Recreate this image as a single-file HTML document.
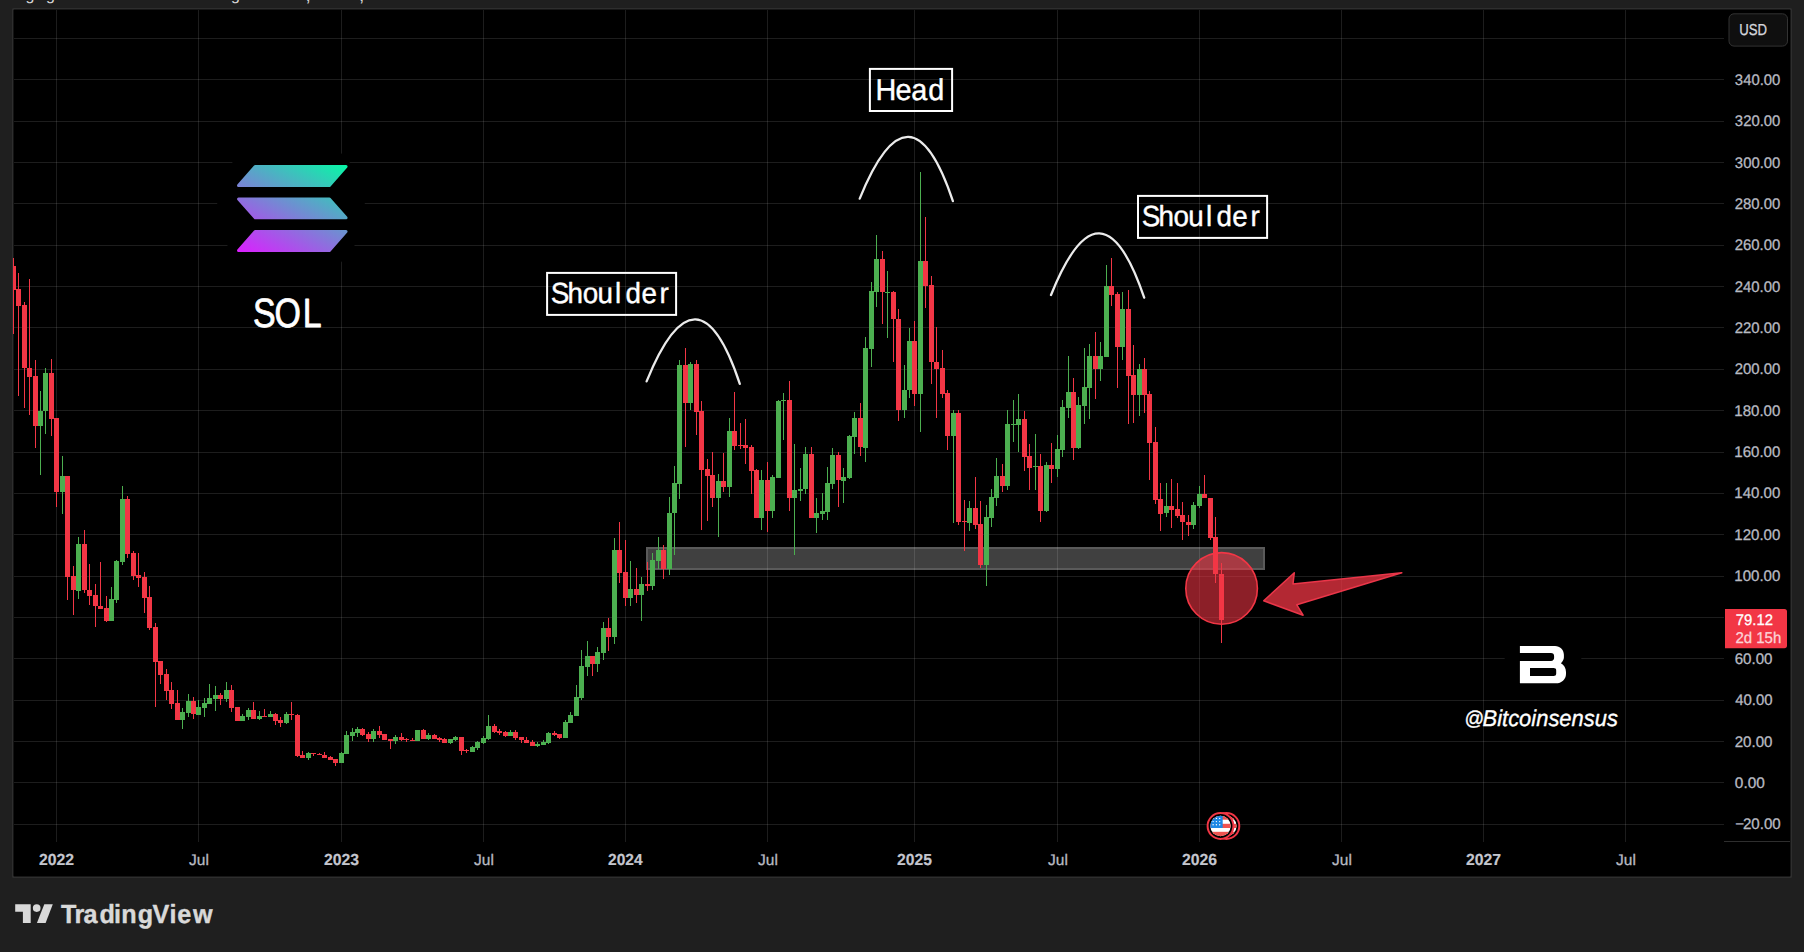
<!DOCTYPE html>
<html lang="en"><head><meta charset="utf-8"><title>SOL chart</title>
<style>
html,body{margin:0;padding:0;background:#1f1f1f;}
body{width:1804px;height:952px;overflow:hidden;font-family:"Liberation Sans", sans-serif;}
svg{display:block;position:absolute;left:0;top:0}
svg text{font-family:"Liberation Sans", sans-serif;text-rendering:geometricPrecision;}
</style></head><body>
<svg width="1804" height="952" viewBox="0 0 1804 952">
<defs>
<linearGradient id="solg" gradientUnits="userSpaceOnUse" x1="276.4" y1="271.7" x2="337.2" y2="155.2">
<stop offset="0" stop-color="#dc1fff"/><stop offset="1" stop-color="#00ffa3"/>
</linearGradient>
<clipPath id="toptext"><rect x="0" y="0" width="1804" height="8"/></clipPath>
<clipPath id="pane"><rect x="13" y="9.8" width="1711" height="832"/></clipPath>
<clipPath id="flagc"><circle cx="1220.5" cy="826" r="10.2"/></clipPath>
<clipPath id="flagb"><circle cx="1226.4" cy="826" r="10.2"/></clipPath>
</defs>

<rect x="0" y="0" width="1804" height="952" fill="#1f1f1f"/>
<rect x="12" y="8" width="1780" height="870" rx="1.5" fill="#2e2e2e"/>
<rect x="13.45" y="9.45" width="1777.05" height="867.0" rx="1" fill="#000"/>
<g clip-path="url(#toptext)" fill="#d6d6d6" font-size="16px"><text x="25.5" y="-0.3">g</text><text x="46" y="-0.3">g</text><text x="231" y="-0.3">g</text><text x="305.5" y="0.6" font-size="19px">,</text><text x="359" y="0.6" font-size="19px">,</text></g>
<g fill="rgba(255,255,255,0.115)" shape-rendering="crispEdges">
<rect x="56" y="10" width="1" height="832"/>
<rect x="198" y="10" width="1" height="832"/>
<rect x="341" y="10" width="1" height="832"/>
<rect x="483" y="10" width="1" height="832"/>
<rect x="625" y="10" width="1" height="832"/>
<rect x="767" y="10" width="1" height="832"/>
<rect x="914" y="10" width="1" height="832"/>
<rect x="1057" y="10" width="1" height="832"/>
<rect x="1199" y="10" width="1" height="832"/>
<rect x="1341" y="10" width="1" height="832"/>
<rect x="1483" y="10" width="1" height="832"/>
<rect x="1625" y="10" width="1" height="832"/>
<rect x="14" y="824" width="1710" height="1"/>
<rect x="14" y="782" width="1710" height="1"/>
<rect x="14" y="741" width="1710" height="1"/>
<rect x="14" y="700" width="1710" height="1"/>
<rect x="14" y="658" width="1710" height="1"/>
<rect x="14" y="617" width="1710" height="1"/>
<rect x="14" y="576" width="1710" height="1"/>
<rect x="14" y="534" width="1710" height="1"/>
<rect x="14" y="493" width="1710" height="1"/>
<rect x="14" y="452" width="1710" height="1"/>
<rect x="14" y="410" width="1710" height="1"/>
<rect x="14" y="369" width="1710" height="1"/>
<rect x="14" y="327" width="1710" height="1"/>
<rect x="14" y="286" width="1710" height="1"/>
<rect x="14" y="245" width="1710" height="1"/>
<rect x="14" y="203" width="1710" height="1"/>
<rect x="14" y="162" width="1710" height="1"/>
<rect x="14" y="121" width="1710" height="1"/>
<rect x="14" y="79" width="1710" height="1"/>
<rect x="14" y="38" width="1710" height="1"/>
</g>
<rect x="1724" y="841" width="66" height="1" fill="#2e2e2e"/>
<rect x="646" y="547" width="619" height="23" fill="rgba(255,255,255,0.25)"/><rect x="647" y="548" width="617" height="21" fill="none" stroke="rgba(255,255,255,0.136)" stroke-width="2"/>
<circle cx="1221.6" cy="588.4" r="35.8" fill="rgba(242,54,69,0.58)" stroke="#f23645" stroke-width="1.6"/>
<path d="M1263.7 600.8 L1294.3 572.7 L1293 583.9 L1401.8 572.7 L1296.8 604.8 L1303.1 615.2 Z" fill="rgba(242,54,69,0.74)" stroke="#ea3649" stroke-width="1.5" stroke-linejoin="round"/>
<g clip-path="url(#pane)" shape-rendering="crispEdges">
<rect x="13" y="258" width="1" height="76" fill="#f23645"/><rect x="11" y="266" width="5" height="24" fill="#f23645"/>
<rect x="18" y="273" width="1" height="123" fill="#f23645"/><rect x="16" y="289" width="5" height="17" fill="#f23645"/>
<rect x="24" y="302" width="1" height="106" fill="#f23645"/><rect x="22" y="305" width="5" height="63" fill="#f23645"/>
<rect x="29" y="279" width="1" height="136" fill="#f23645"/><rect x="27" y="368" width="5" height="9" fill="#f23645"/>
<rect x="35" y="360" width="1" height="88" fill="#f23645"/><rect x="33" y="376" width="5" height="50" fill="#f23645"/>
<rect x="40" y="391" width="1" height="84" fill="#4caf50"/><rect x="38" y="411" width="5" height="15" fill="#4caf50"/>
<rect x="45" y="368" width="1" height="66" fill="#4caf50"/><rect x="43" y="373" width="5" height="38" fill="#4caf50"/>
<rect x="51" y="359" width="1" height="77" fill="#f23645"/><rect x="49" y="373" width="5" height="46" fill="#f23645"/>
<rect x="56" y="418" width="1" height="89" fill="#f23645"/><rect x="54" y="418" width="5" height="74" fill="#f23645"/>
<rect x="62" y="456" width="1" height="58" fill="#4caf50"/><rect x="60" y="476" width="5" height="16" fill="#4caf50"/>
<rect x="67" y="476" width="1" height="124" fill="#f23645"/><rect x="65" y="476" width="5" height="101" fill="#f23645"/>
<rect x="73" y="566" width="1" height="49" fill="#f23645"/><rect x="71" y="576" width="5" height="14" fill="#f23645"/>
<rect x="78" y="537" width="1" height="62" fill="#4caf50"/><rect x="76" y="544" width="5" height="47" fill="#4caf50"/>
<rect x="84" y="530" width="1" height="63" fill="#f23645"/><rect x="82" y="544" width="5" height="46" fill="#f23645"/>
<rect x="89" y="564" width="1" height="41" fill="#f23645"/><rect x="87" y="590" width="5" height="6" fill="#f23645"/>
<rect x="95" y="584" width="1" height="43" fill="#f23645"/><rect x="93" y="595" width="5" height="11" fill="#f23645"/>
<rect x="100" y="562" width="1" height="47" fill="#f23645"/><rect x="98" y="606" width="5" height="3" fill="#f23645"/>
<rect x="106" y="596" width="1" height="26" fill="#f23645"/><rect x="104" y="608" width="5" height="13" fill="#f23645"/>
<rect x="111" y="587" width="1" height="34" fill="#4caf50"/><rect x="109" y="599" width="5" height="22" fill="#4caf50"/>
<rect x="116" y="560" width="1" height="43" fill="#4caf50"/><rect x="114" y="561" width="5" height="39" fill="#4caf50"/>
<rect x="122" y="486" width="1" height="79" fill="#4caf50"/><rect x="120" y="499" width="5" height="63" fill="#4caf50"/>
<rect x="127" y="496" width="1" height="62" fill="#f23645"/><rect x="125" y="499" width="5" height="55" fill="#f23645"/>
<rect x="133" y="551" width="1" height="29" fill="#f23645"/><rect x="131" y="553" width="5" height="23" fill="#f23645"/>
<rect x="138" y="553" width="1" height="34" fill="#f23645"/><rect x="136" y="575" width="5" height="3" fill="#f23645"/>
<rect x="144" y="572" width="1" height="41" fill="#f23645"/><rect x="142" y="577" width="5" height="21" fill="#f23645"/>
<rect x="149" y="586" width="1" height="44" fill="#f23645"/><rect x="147" y="597" width="5" height="31" fill="#f23645"/>
<rect x="155" y="623" width="1" height="84" fill="#f23645"/><rect x="153" y="627" width="5" height="35" fill="#f23645"/>
<rect x="160" y="661" width="1" height="23" fill="#f23645"/><rect x="158" y="661" width="5" height="14" fill="#f23645"/>
<rect x="166" y="669" width="1" height="31" fill="#f23645"/><rect x="164" y="674" width="5" height="17" fill="#f23645"/>
<rect x="171" y="682" width="1" height="27" fill="#f23645"/><rect x="169" y="690" width="5" height="14" fill="#f23645"/>
<rect x="177" y="690" width="1" height="30" fill="#f23645"/><rect x="175" y="703" width="5" height="17" fill="#f23645"/>
<rect x="182" y="708" width="1" height="21" fill="#4caf50"/><rect x="180" y="712" width="5" height="8" fill="#4caf50"/>
<rect x="188" y="694" width="1" height="23" fill="#4caf50"/><rect x="186" y="701" width="5" height="12" fill="#4caf50"/>
<rect x="193" y="697" width="1" height="22" fill="#f23645"/><rect x="191" y="701" width="5" height="13" fill="#f23645"/>
<rect x="198" y="700" width="1" height="15" fill="#4caf50"/><rect x="196" y="707" width="5" height="8" fill="#4caf50"/>
<rect x="204" y="698" width="1" height="19" fill="#4caf50"/><rect x="202" y="703" width="5" height="5" fill="#4caf50"/>
<rect x="209" y="684" width="1" height="20" fill="#4caf50"/><rect x="207" y="698" width="5" height="6" fill="#4caf50"/>
<rect x="215" y="686" width="1" height="25" fill="#4caf50"/><rect x="213" y="695" width="5" height="4" fill="#4caf50"/>
<rect x="220" y="693" width="1" height="12" fill="#f23645"/><rect x="218" y="695" width="5" height="4" fill="#f23645"/>
<rect x="226" y="682" width="1" height="20" fill="#4caf50"/><rect x="224" y="690" width="5" height="9" fill="#4caf50"/>
<rect x="231" y="685" width="1" height="27" fill="#f23645"/><rect x="229" y="690" width="5" height="18" fill="#f23645"/>
<rect x="237" y="707" width="1" height="14" fill="#f23645"/><rect x="235" y="707" width="5" height="14" fill="#f23645"/>
<rect x="242" y="714" width="1" height="7" fill="#4caf50"/><rect x="240" y="716" width="5" height="5" fill="#4caf50"/>
<rect x="248" y="708" width="1" height="12" fill="#4caf50"/><rect x="246" y="710" width="5" height="7" fill="#4caf50"/>
<rect x="253" y="702" width="1" height="17" fill="#f23645"/><rect x="251" y="710" width="5" height="9" fill="#f23645"/>
<rect x="259" y="711" width="1" height="9" fill="#4caf50"/><rect x="257" y="716" width="5" height="3" fill="#4caf50"/>
<rect x="264" y="709" width="1" height="8" fill="#f23645"/><rect x="262" y="716" width="5" height="1" fill="#f23645"/>
<rect x="270" y="711" width="1" height="6" fill="#4caf50"/><rect x="268" y="714" width="5" height="3" fill="#4caf50"/>
<rect x="275" y="713" width="1" height="12" fill="#f23645"/><rect x="273" y="714" width="5" height="7" fill="#f23645"/>
<rect x="280" y="717" width="1" height="10" fill="#f23645"/><rect x="278" y="720" width="5" height="3" fill="#f23645"/>
<rect x="286" y="712" width="1" height="12" fill="#4caf50"/><rect x="284" y="714" width="5" height="9" fill="#4caf50"/>
<rect x="291" y="702" width="1" height="18" fill="#f23645"/><rect x="289" y="714" width="5" height="1" fill="#f23645"/>
<rect x="297" y="714" width="1" height="43" fill="#f23645"/><rect x="295" y="715" width="5" height="41" fill="#f23645"/>
<rect x="302" y="751" width="1" height="7" fill="#f23645"/><rect x="300" y="755" width="5" height="3" fill="#f23645"/>
<rect x="308" y="752" width="1" height="8" fill="#4caf50"/><rect x="306" y="753" width="5" height="5" fill="#4caf50"/>
<rect x="313" y="753" width="1" height="3" fill="#f23645"/><rect x="311" y="753" width="5" height="1" fill="#f23645"/>
<rect x="319" y="753" width="1" height="2" fill="#f23645"/><rect x="317" y="754" width="5" height="1" fill="#f23645"/>
<rect x="324" y="752" width="1" height="6" fill="#f23645"/><rect x="322" y="755" width="5" height="3" fill="#f23645"/>
<rect x="330" y="756" width="1" height="4" fill="#f23645"/><rect x="328" y="757" width="5" height="3" fill="#f23645"/>
<rect x="335" y="759" width="1" height="7" fill="#f23645"/><rect x="333" y="759" width="5" height="4" fill="#f23645"/>
<rect x="341" y="752" width="1" height="11" fill="#4caf50"/><rect x="339" y="753" width="5" height="10" fill="#4caf50"/>
<rect x="346" y="731" width="1" height="23" fill="#4caf50"/><rect x="344" y="735" width="5" height="19" fill="#4caf50"/>
<rect x="352" y="728" width="1" height="13" fill="#4caf50"/><rect x="350" y="732" width="5" height="4" fill="#4caf50"/>
<rect x="357" y="727" width="1" height="10" fill="#4caf50"/><rect x="355" y="729" width="5" height="4" fill="#4caf50"/>
<rect x="362" y="728" width="1" height="8" fill="#f23645"/><rect x="360" y="729" width="5" height="6" fill="#f23645"/>
<rect x="368" y="732" width="1" height="10" fill="#f23645"/><rect x="366" y="734" width="5" height="5" fill="#f23645"/>
<rect x="373" y="729" width="1" height="13" fill="#4caf50"/><rect x="371" y="731" width="5" height="8" fill="#4caf50"/>
<rect x="379" y="726" width="1" height="12" fill="#f23645"/><rect x="377" y="731" width="5" height="4" fill="#f23645"/>
<rect x="384" y="734" width="1" height="6" fill="#f23645"/><rect x="382" y="734" width="5" height="6" fill="#f23645"/>
<rect x="390" y="739" width="1" height="10" fill="#f23645"/><rect x="388" y="739" width="5" height="2" fill="#f23645"/>
<rect x="395" y="735" width="1" height="9" fill="#4caf50"/><rect x="393" y="737" width="5" height="4" fill="#4caf50"/>
<rect x="401" y="733" width="1" height="8" fill="#f23645"/><rect x="399" y="737" width="5" height="3" fill="#f23645"/>
<rect x="406" y="738" width="1" height="4" fill="#f23645"/><rect x="404" y="739" width="5" height="1" fill="#f23645"/>
<rect x="412" y="738" width="1" height="3" fill="#f23645"/><rect x="410" y="740" width="5" height="1" fill="#f23645"/>
<rect x="417" y="730" width="1" height="11" fill="#4caf50"/><rect x="415" y="730" width="5" height="11" fill="#4caf50"/>
<rect x="423" y="729" width="1" height="10" fill="#f23645"/><rect x="421" y="730" width="5" height="9" fill="#f23645"/>
<rect x="428" y="733" width="1" height="7" fill="#4caf50"/><rect x="426" y="735" width="5" height="4" fill="#4caf50"/>
<rect x="434" y="734" width="1" height="5" fill="#f23645"/><rect x="432" y="735" width="5" height="4" fill="#f23645"/>
<rect x="439" y="737" width="1" height="5" fill="#f23645"/><rect x="437" y="738" width="5" height="2" fill="#f23645"/>
<rect x="444" y="738" width="1" height="5" fill="#f23645"/><rect x="442" y="739" width="5" height="4" fill="#f23645"/>
<rect x="450" y="739" width="1" height="5" fill="#4caf50"/><rect x="448" y="739" width="5" height="4" fill="#4caf50"/>
<rect x="455" y="736" width="1" height="5" fill="#4caf50"/><rect x="453" y="737" width="5" height="3" fill="#4caf50"/>
<rect x="461" y="737" width="1" height="18" fill="#f23645"/><rect x="459" y="737" width="5" height="14" fill="#f23645"/>
<rect x="466" y="749" width="1" height="4" fill="#f23645"/><rect x="464" y="750" width="5" height="1" fill="#f23645"/>
<rect x="472" y="746" width="1" height="6" fill="#4caf50"/><rect x="470" y="747" width="5" height="5" fill="#4caf50"/>
<rect x="477" y="741" width="1" height="9" fill="#4caf50"/><rect x="475" y="742" width="5" height="6" fill="#4caf50"/>
<rect x="483" y="736" width="1" height="8" fill="#4caf50"/><rect x="481" y="738" width="5" height="5" fill="#4caf50"/>
<rect x="488" y="715" width="1" height="25" fill="#4caf50"/><rect x="486" y="726" width="5" height="13" fill="#4caf50"/>
<rect x="494" y="724" width="1" height="9" fill="#f23645"/><rect x="492" y="726" width="5" height="6" fill="#f23645"/>
<rect x="499" y="729" width="1" height="6" fill="#f23645"/><rect x="497" y="731" width="5" height="2" fill="#f23645"/>
<rect x="505" y="731" width="1" height="6" fill="#f23645"/><rect x="503" y="732" width="5" height="4" fill="#f23645"/>
<rect x="510" y="730" width="1" height="6" fill="#4caf50"/><rect x="508" y="732" width="5" height="4" fill="#4caf50"/>
<rect x="515" y="730" width="1" height="10" fill="#f23645"/><rect x="513" y="732" width="5" height="6" fill="#f23645"/>
<rect x="521" y="737" width="1" height="6" fill="#f23645"/><rect x="519" y="737" width="5" height="3" fill="#f23645"/>
<rect x="526" y="737" width="1" height="6" fill="#f23645"/><rect x="524" y="740" width="5" height="3" fill="#f23645"/>
<rect x="532" y="740" width="1" height="6" fill="#f23645"/><rect x="530" y="742" width="5" height="4" fill="#f23645"/>
<rect x="537" y="742" width="1" height="5" fill="#4caf50"/><rect x="535" y="744" width="5" height="2" fill="#4caf50"/>
<rect x="543" y="740" width="1" height="5" fill="#4caf50"/><rect x="541" y="742" width="5" height="3" fill="#4caf50"/>
<rect x="548" y="732" width="1" height="12" fill="#4caf50"/><rect x="546" y="733" width="5" height="10" fill="#4caf50"/>
<rect x="554" y="731" width="1" height="5" fill="#f23645"/><rect x="552" y="733" width="5" height="2" fill="#f23645"/>
<rect x="559" y="734" width="1" height="5" fill="#f23645"/><rect x="557" y="734" width="5" height="4" fill="#f23645"/>
<rect x="565" y="720" width="1" height="18" fill="#4caf50"/><rect x="563" y="722" width="5" height="16" fill="#4caf50"/>
<rect x="570" y="712" width="1" height="11" fill="#4caf50"/><rect x="568" y="715" width="5" height="8" fill="#4caf50"/>
<rect x="576" y="685" width="1" height="31" fill="#4caf50"/><rect x="574" y="697" width="5" height="19" fill="#4caf50"/>
<rect x="581" y="650" width="1" height="50" fill="#4caf50"/><rect x="579" y="666" width="5" height="32" fill="#4caf50"/>
<rect x="587" y="641" width="1" height="35" fill="#4caf50"/><rect x="585" y="656" width="5" height="11" fill="#4caf50"/>
<rect x="592" y="656" width="1" height="20" fill="#f23645"/><rect x="590" y="656" width="5" height="8" fill="#f23645"/>
<rect x="597" y="647" width="1" height="25" fill="#4caf50"/><rect x="595" y="652" width="5" height="12" fill="#4caf50"/>
<rect x="603" y="622" width="1" height="38" fill="#4caf50"/><rect x="601" y="628" width="5" height="25" fill="#4caf50"/>
<rect x="608" y="618" width="1" height="33" fill="#f23645"/><rect x="606" y="628" width="5" height="9" fill="#f23645"/>
<rect x="614" y="538" width="1" height="106" fill="#4caf50"/><rect x="612" y="550" width="5" height="87" fill="#4caf50"/>
<rect x="619" y="522" width="1" height="61" fill="#f23645"/><rect x="617" y="550" width="5" height="23" fill="#f23645"/>
<rect x="625" y="540" width="1" height="66" fill="#f23645"/><rect x="623" y="572" width="5" height="26" fill="#f23645"/>
<rect x="630" y="561" width="1" height="45" fill="#4caf50"/><rect x="628" y="589" width="5" height="9" fill="#4caf50"/>
<rect x="636" y="568" width="1" height="35" fill="#f23645"/><rect x="634" y="589" width="5" height="6" fill="#f23645"/>
<rect x="641" y="577" width="1" height="44" fill="#4caf50"/><rect x="639" y="584" width="5" height="11" fill="#4caf50"/>
<rect x="647" y="562" width="1" height="29" fill="#f23645"/><rect x="645" y="584" width="5" height="2" fill="#f23645"/>
<rect x="652" y="553" width="1" height="37" fill="#4caf50"/><rect x="650" y="560" width="5" height="26" fill="#4caf50"/>
<rect x="658" y="537" width="1" height="32" fill="#4caf50"/><rect x="656" y="550" width="5" height="11" fill="#4caf50"/>
<rect x="663" y="545" width="1" height="34" fill="#f23645"/><rect x="661" y="550" width="5" height="19" fill="#f23645"/>
<rect x="669" y="497" width="1" height="78" fill="#4caf50"/><rect x="667" y="513" width="5" height="56" fill="#4caf50"/>
<rect x="674" y="466" width="1" height="89" fill="#4caf50"/><rect x="672" y="483" width="5" height="30" fill="#4caf50"/>
<rect x="679" y="360" width="1" height="139" fill="#4caf50"/><rect x="677" y="365" width="5" height="119" fill="#4caf50"/>
<rect x="685" y="348" width="1" height="99" fill="#f23645"/><rect x="683" y="365" width="5" height="38" fill="#f23645"/>
<rect x="690" y="362" width="1" height="48" fill="#4caf50"/><rect x="688" y="364" width="5" height="39" fill="#4caf50"/>
<rect x="696" y="360" width="1" height="75" fill="#f23645"/><rect x="694" y="364" width="5" height="48" fill="#f23645"/>
<rect x="701" y="401" width="1" height="129" fill="#f23645"/><rect x="699" y="411" width="5" height="59" fill="#f23645"/>
<rect x="707" y="459" width="1" height="62" fill="#f23645"/><rect x="705" y="469" width="5" height="7" fill="#f23645"/>
<rect x="712" y="452" width="1" height="55" fill="#f23645"/><rect x="710" y="475" width="5" height="23" fill="#f23645"/>
<rect x="718" y="474" width="1" height="63" fill="#4caf50"/><rect x="716" y="481" width="5" height="17" fill="#4caf50"/>
<rect x="723" y="453" width="1" height="39" fill="#f23645"/><rect x="721" y="481" width="5" height="6" fill="#f23645"/>
<rect x="729" y="418" width="1" height="79" fill="#4caf50"/><rect x="727" y="431" width="5" height="56" fill="#4caf50"/>
<rect x="734" y="392" width="1" height="58" fill="#f23645"/><rect x="732" y="431" width="5" height="15" fill="#f23645"/>
<rect x="740" y="423" width="1" height="26" fill="#f23645"/><rect x="738" y="445" width="5" height="1" fill="#f23645"/>
<rect x="745" y="419" width="1" height="45" fill="#f23645"/><rect x="743" y="445" width="5" height="3" fill="#f23645"/>
<rect x="751" y="445" width="1" height="49" fill="#f23645"/><rect x="749" y="447" width="5" height="24" fill="#f23645"/>
<rect x="756" y="469" width="1" height="49" fill="#f23645"/><rect x="754" y="470" width="5" height="48" fill="#f23645"/>
<rect x="761" y="470" width="1" height="60" fill="#4caf50"/><rect x="759" y="480" width="5" height="38" fill="#4caf50"/>
<rect x="767" y="462" width="1" height="70" fill="#f23645"/><rect x="765" y="480" width="5" height="31" fill="#f23645"/>
<rect x="772" y="475" width="1" height="43" fill="#4caf50"/><rect x="770" y="477" width="5" height="34" fill="#4caf50"/>
<rect x="778" y="400" width="1" height="78" fill="#4caf50"/><rect x="776" y="401" width="5" height="77" fill="#4caf50"/>
<rect x="783" y="393" width="1" height="47" fill="#4caf50"/><rect x="781" y="400" width="5" height="1" fill="#4caf50"/>
<rect x="789" y="381" width="1" height="130" fill="#f23645"/><rect x="787" y="400" width="5" height="98" fill="#f23645"/>
<rect x="794" y="444" width="1" height="111" fill="#4caf50"/><rect x="792" y="490" width="5" height="8" fill="#4caf50"/>
<rect x="800" y="468" width="1" height="33" fill="#4caf50"/><rect x="798" y="489" width="5" height="2" fill="#4caf50"/>
<rect x="805" y="447" width="1" height="47" fill="#4caf50"/><rect x="803" y="454" width="5" height="35" fill="#4caf50"/>
<rect x="811" y="447" width="1" height="71" fill="#f23645"/><rect x="809" y="454" width="5" height="64" fill="#f23645"/>
<rect x="816" y="498" width="1" height="35" fill="#4caf50"/><rect x="814" y="513" width="5" height="5" fill="#4caf50"/>
<rect x="822" y="493" width="1" height="27" fill="#4caf50"/><rect x="820" y="511" width="5" height="3" fill="#4caf50"/>
<rect x="827" y="467" width="1" height="53" fill="#4caf50"/><rect x="825" y="483" width="5" height="29" fill="#4caf50"/>
<rect x="832" y="448" width="1" height="41" fill="#4caf50"/><rect x="830" y="455" width="5" height="29" fill="#4caf50"/>
<rect x="838" y="452" width="1" height="55" fill="#f23645"/><rect x="836" y="455" width="5" height="25" fill="#f23645"/>
<rect x="843" y="468" width="1" height="35" fill="#4caf50"/><rect x="841" y="477" width="5" height="4" fill="#4caf50"/>
<rect x="849" y="435" width="1" height="44" fill="#4caf50"/><rect x="847" y="436" width="5" height="42" fill="#4caf50"/>
<rect x="854" y="412" width="1" height="42" fill="#4caf50"/><rect x="852" y="418" width="5" height="19" fill="#4caf50"/>
<rect x="860" y="403" width="1" height="53" fill="#f23645"/><rect x="858" y="418" width="5" height="29" fill="#f23645"/>
<rect x="865" y="337" width="1" height="125" fill="#4caf50"/><rect x="863" y="348" width="5" height="100" fill="#4caf50"/>
<rect x="871" y="282" width="1" height="85" fill="#4caf50"/><rect x="869" y="291" width="5" height="58" fill="#4caf50"/>
<rect x="876" y="235" width="1" height="72" fill="#4caf50"/><rect x="874" y="259" width="5" height="33" fill="#4caf50"/>
<rect x="882" y="251" width="1" height="73" fill="#f23645"/><rect x="880" y="259" width="5" height="33" fill="#f23645"/>
<rect x="887" y="271" width="1" height="67" fill="#4caf50"/><rect x="885" y="292" width="5" height="1" fill="#4caf50"/>
<rect x="893" y="291" width="1" height="71" fill="#f23645"/><rect x="891" y="292" width="5" height="27" fill="#f23645"/>
<rect x="898" y="309" width="1" height="112" fill="#f23645"/><rect x="896" y="319" width="5" height="91" fill="#f23645"/>
<rect x="904" y="365" width="1" height="53" fill="#4caf50"/><rect x="902" y="390" width="5" height="20" fill="#4caf50"/>
<rect x="909" y="328" width="1" height="70" fill="#4caf50"/><rect x="907" y="341" width="5" height="49" fill="#4caf50"/>
<rect x="914" y="321" width="1" height="85" fill="#f23645"/><rect x="912" y="341" width="5" height="53" fill="#f23645"/>
<rect x="920" y="172" width="1" height="260" fill="#4caf50"/><rect x="918" y="261" width="5" height="133" fill="#4caf50"/>
<rect x="925" y="217" width="1" height="91" fill="#f23645"/><rect x="923" y="261" width="5" height="25" fill="#f23645"/>
<rect x="931" y="276" width="1" height="108" fill="#f23645"/><rect x="929" y="285" width="5" height="77" fill="#f23645"/>
<rect x="936" y="327" width="1" height="91" fill="#f23645"/><rect x="934" y="362" width="5" height="7" fill="#f23645"/>
<rect x="942" y="350" width="1" height="48" fill="#f23645"/><rect x="940" y="368" width="5" height="26" fill="#f23645"/>
<rect x="947" y="390" width="1" height="60" fill="#f23645"/><rect x="945" y="393" width="5" height="43" fill="#f23645"/>
<rect x="953" y="410" width="1" height="113" fill="#4caf50"/><rect x="951" y="413" width="5" height="23" fill="#4caf50"/>
<rect x="958" y="410" width="1" height="115" fill="#f23645"/><rect x="956" y="413" width="5" height="109" fill="#f23645"/>
<rect x="964" y="500" width="1" height="51" fill="#f23645"/><rect x="962" y="521" width="5" height="1" fill="#f23645"/>
<rect x="969" y="501" width="1" height="30" fill="#4caf50"/><rect x="967" y="508" width="5" height="15" fill="#4caf50"/>
<rect x="975" y="477" width="1" height="52" fill="#f23645"/><rect x="973" y="508" width="5" height="17" fill="#f23645"/>
<rect x="980" y="501" width="1" height="67" fill="#f23645"/><rect x="978" y="524" width="5" height="41" fill="#f23645"/>
<rect x="986" y="505" width="1" height="81" fill="#4caf50"/><rect x="984" y="517" width="5" height="48" fill="#4caf50"/>
<rect x="991" y="489" width="1" height="38" fill="#4caf50"/><rect x="989" y="497" width="5" height="21" fill="#4caf50"/>
<rect x="996" y="458" width="1" height="48" fill="#4caf50"/><rect x="994" y="476" width="5" height="22" fill="#4caf50"/>
<rect x="1002" y="464" width="1" height="28" fill="#f23645"/><rect x="1000" y="476" width="5" height="10" fill="#f23645"/>
<rect x="1007" y="410" width="1" height="80" fill="#4caf50"/><rect x="1005" y="424" width="5" height="62" fill="#4caf50"/>
<rect x="1013" y="400" width="1" height="42" fill="#4caf50"/><rect x="1011" y="424" width="5" height="1" fill="#4caf50"/>
<rect x="1018" y="394" width="1" height="58" fill="#4caf50"/><rect x="1016" y="419" width="5" height="6" fill="#4caf50"/>
<rect x="1024" y="411" width="1" height="60" fill="#f23645"/><rect x="1022" y="419" width="5" height="38" fill="#f23645"/>
<rect x="1029" y="444" width="1" height="46" fill="#f23645"/><rect x="1027" y="456" width="5" height="12" fill="#f23645"/>
<rect x="1035" y="434" width="1" height="56" fill="#4caf50"/><rect x="1033" y="466" width="5" height="1" fill="#4caf50"/>
<rect x="1040" y="454" width="1" height="68" fill="#f23645"/><rect x="1038" y="466" width="5" height="45" fill="#f23645"/>
<rect x="1046" y="462" width="1" height="50" fill="#4caf50"/><rect x="1044" y="465" width="5" height="46" fill="#4caf50"/>
<rect x="1051" y="443" width="1" height="40" fill="#f23645"/><rect x="1049" y="465" width="5" height="4" fill="#f23645"/>
<rect x="1057" y="435" width="1" height="42" fill="#4caf50"/><rect x="1055" y="449" width="5" height="20" fill="#4caf50"/>
<rect x="1062" y="400" width="1" height="57" fill="#4caf50"/><rect x="1060" y="407" width="5" height="43" fill="#4caf50"/>
<rect x="1068" y="356" width="1" height="62" fill="#4caf50"/><rect x="1066" y="392" width="5" height="16" fill="#4caf50"/>
<rect x="1073" y="378" width="1" height="82" fill="#f23645"/><rect x="1071" y="392" width="5" height="56" fill="#f23645"/>
<rect x="1078" y="397" width="1" height="52" fill="#4caf50"/><rect x="1076" y="405" width="5" height="43" fill="#4caf50"/>
<rect x="1084" y="348" width="1" height="76" fill="#4caf50"/><rect x="1082" y="387" width="5" height="19" fill="#4caf50"/>
<rect x="1089" y="344" width="1" height="75" fill="#4caf50"/><rect x="1087" y="356" width="5" height="32" fill="#4caf50"/>
<rect x="1095" y="332" width="1" height="67" fill="#f23645"/><rect x="1093" y="356" width="5" height="13" fill="#f23645"/>
<rect x="1100" y="342" width="1" height="39" fill="#4caf50"/><rect x="1098" y="356" width="5" height="13" fill="#4caf50"/>
<rect x="1106" y="265" width="1" height="92" fill="#4caf50"/><rect x="1104" y="286" width="5" height="71" fill="#4caf50"/>
<rect x="1111" y="258" width="1" height="48" fill="#f23645"/><rect x="1109" y="286" width="5" height="9" fill="#f23645"/>
<rect x="1117" y="292" width="1" height="96" fill="#f23645"/><rect x="1115" y="294" width="5" height="53" fill="#f23645"/>
<rect x="1122" y="292" width="1" height="68" fill="#4caf50"/><rect x="1120" y="309" width="5" height="38" fill="#4caf50"/>
<rect x="1128" y="290" width="1" height="134" fill="#f23645"/><rect x="1126" y="309" width="5" height="67" fill="#f23645"/>
<rect x="1133" y="345" width="1" height="78" fill="#f23645"/><rect x="1131" y="375" width="5" height="20" fill="#f23645"/>
<rect x="1139" y="364" width="1" height="52" fill="#4caf50"/><rect x="1137" y="369" width="5" height="26" fill="#4caf50"/>
<rect x="1144" y="358" width="1" height="55" fill="#f23645"/><rect x="1142" y="369" width="5" height="26" fill="#f23645"/>
<rect x="1149" y="391" width="1" height="89" fill="#f23645"/><rect x="1147" y="394" width="5" height="49" fill="#f23645"/>
<rect x="1155" y="427" width="1" height="77" fill="#f23645"/><rect x="1153" y="442" width="5" height="58" fill="#f23645"/>
<rect x="1160" y="483" width="1" height="48" fill="#f23645"/><rect x="1158" y="499" width="5" height="15" fill="#f23645"/>
<rect x="1166" y="483" width="1" height="34" fill="#4caf50"/><rect x="1164" y="506" width="5" height="7" fill="#4caf50"/>
<rect x="1171" y="479" width="1" height="49" fill="#f23645"/><rect x="1169" y="506" width="5" height="4" fill="#f23645"/>
<rect x="1177" y="483" width="1" height="35" fill="#f23645"/><rect x="1175" y="509" width="5" height="7" fill="#f23645"/>
<rect x="1182" y="502" width="1" height="38" fill="#f23645"/><rect x="1180" y="515" width="5" height="7" fill="#f23645"/>
<rect x="1188" y="515" width="1" height="21" fill="#f23645"/><rect x="1186" y="522" width="5" height="3" fill="#f23645"/>
<rect x="1193" y="502" width="1" height="27" fill="#4caf50"/><rect x="1191" y="505" width="5" height="20" fill="#4caf50"/>
<rect x="1199" y="486" width="1" height="22" fill="#4caf50"/><rect x="1197" y="494" width="5" height="12" fill="#4caf50"/>
<rect x="1204" y="475" width="1" height="23" fill="#f23645"/><rect x="1202" y="494" width="5" height="4" fill="#f23645"/>
<rect x="1210" y="498" width="1" height="42" fill="#f23645"/><rect x="1208" y="498" width="5" height="40" fill="#f23645"/>
<rect x="1215" y="517" width="1" height="66" fill="#f23645"/><rect x="1213" y="537" width="5" height="37" fill="#f23645"/>
<rect x="1221" y="563" width="1" height="80" fill="#f23645"/><rect x="1219" y="574" width="5" height="46" fill="#f23645"/>
</g>
<g fill="none" stroke="#ebebeb" stroke-width="2.3" stroke-linecap="round">
<path d="M646.6 381.4 Q697.4 256.2 739.8 383.8"/>
<path d="M859.7 198.6 Q910.3 73.8 952.9 201.1"/>
<path d="M1051 295 Q1101.0 170.4 1144.2 297.7"/>
</g>
<rect x="869.9" y="68.9" width="82.2" height="42.1" fill="none" stroke="#fff" stroke-width="2"/>
<text transform="translate(0 99.80) scale(0.9600 1)" x="911.91 932.69 949.10 966.95" font-size="30.00px" fill="#fff" stroke="#fff" stroke-width="0.4" stroke-linejoin="round">Head</text>
<rect x="547.1" y="272.9" width="129.0" height="42.0" fill="none" stroke="#fff" stroke-width="2"/>
<text transform="translate(0 303.40) scale(0.9600 1)" x="573.70 591.26 606.91 622.27 640.72 651.59 668.18 687.10" font-size="28.97px" fill="#fff" stroke="#fff" stroke-width="0.4" stroke-linejoin="round">Shoulder</text>
<rect x="1138.0" y="195.9" width="129.1" height="42.0" fill="none" stroke="#fff" stroke-width="2"/>
<text transform="translate(0 226.40) scale(0.9600 1)" x="1189.22 1206.79 1222.43 1237.80 1256.24 1267.12 1283.70 1302.62" font-size="28.97px" fill="#fff" stroke="#fff" stroke-width="0.4" stroke-linejoin="round">Shoulder</text>
<circle cx="291" cy="207.6" r="74" fill="#000"/>
<path d="M255.18 166.40 L346.10 166.40 L329.42 185.50 L238.50 185.50 Z" fill="url(#solg)" stroke="url(#solg)" stroke-width="3.0" stroke-linejoin="round"/>
<path d="M255.18 217.80 L346.07 217.80 L329.42 199.00 L238.53 199.00 Z" fill="url(#solg)" stroke="url(#solg)" stroke-width="3.0" stroke-linejoin="round"/>
<path d="M255.18 231.50 L346.08 231.50 L329.42 250.40 L238.52 250.40 Z" fill="url(#solg)" stroke="url(#solg)" stroke-width="3.0" stroke-linejoin="round"/>
<text transform="translate(0 327.00) scale(0.8300 1)" x="304.84 330.79 364.75" font-size="40.87px" fill="#fff" stroke="#fff" stroke-width="0.8" stroke-linejoin="round">SOL</text>
<circle cx="1543" cy="658.5" r="38.3" fill="#000"/>
<path fill-rule="evenodd" fill="#fff" d="M1519.9 645.9 H1555 C1560 645.9 1563.9 649.5 1563.9 654.8 V657.5 C1563.9 659.5 1562.5 661.8 1560.9 663.2 C1564 665 1566 668 1566 672 V674 C1566 679.5 1561.5 683.35 1556 683.35 H1519.9 V661 H1551 C1553 661 1554.1 659.5 1554.1 658 V656 C1554.1 654.2 1553 653.06 1551 653.06 H1519.9 Z M1530 668.06 H1553.5 Q1556.2 668.06 1556.2 670.5 V673.5 Q1556.2 676 1553.5 676 H1530 Z"/>
<text transform="translate(0 725.60) scale(0.9633 1)" font-size="22.79px" fill="#fff" font-style="italic" stroke="#fff" stroke-width="0.35" stroke-linejoin="round"><tspan x="1519.98" dy="-0.58" font-size="20.06px">@</tspan><tspan x="1539.00" dy="0.58">Bitcoinsensus</tspan></text>
<text transform="translate(0 829.00) scale(0.9842 1)" font-size="15.36px" fill="#b8bac2" stroke="#b8bac2" stroke-width="0.3" stroke-linejoin="round"><tspan x="1763.06" dy="-0.2">−</tspan><tspan x="1770.87" dy="0.2">20.00</tspan></text>
<text transform="translate(1734.83 788.00) scale(1.0029 1)" font-size="15.36px" fill="#b8bac2" stroke="#b8bac2" stroke-width="0.3" stroke-linejoin="round">0.00</text>
<text transform="translate(1734.69 747.00) scale(0.9842 1)" font-size="15.36px" fill="#b8bac2" stroke="#b8bac2" stroke-width="0.3" stroke-linejoin="round">20.00</text>
<text transform="translate(1735.15 705.00) scale(0.9721 1)" font-size="15.36px" fill="#b8bac2" stroke="#b8bac2" stroke-width="0.3" stroke-linejoin="round">40.00</text>
<text transform="translate(1734.69 664.00) scale(0.9842 1)" font-size="15.36px" fill="#b8bac2" stroke="#b8bac2" stroke-width="0.3" stroke-linejoin="round">60.00</text>
<text transform="translate(1734.77 622.00) scale(0.9821 1)" font-size="15.36px" fill="#b8bac2" stroke="#b8bac2" stroke-width="0.3" stroke-linejoin="round">80.00</text>
<text transform="translate(1734.32 581.00) scale(0.9801 1)" font-size="15.36px" fill="#b8bac2" stroke="#b8bac2" stroke-width="0.3" stroke-linejoin="round">100.00</text>
<text transform="translate(1734.32 540.00) scale(0.9801 1)" font-size="15.36px" fill="#b8bac2" stroke="#b8bac2" stroke-width="0.3" stroke-linejoin="round">120.00</text>
<text transform="translate(1734.32 498.00) scale(0.9801 1)" font-size="15.36px" fill="#b8bac2" stroke="#b8bac2" stroke-width="0.3" stroke-linejoin="round">140.00</text>
<text transform="translate(1734.32 457.00) scale(0.9801 1)" font-size="15.36px" fill="#b8bac2" stroke="#b8bac2" stroke-width="0.3" stroke-linejoin="round">160.00</text>
<text transform="translate(1734.32 416.00) scale(0.9801 1)" font-size="15.36px" fill="#b8bac2" stroke="#b8bac2" stroke-width="0.3" stroke-linejoin="round">180.00</text>
<text transform="translate(1734.70 374.00) scale(0.9718 1)" font-size="15.36px" fill="#b8bac2" stroke="#b8bac2" stroke-width="0.3" stroke-linejoin="round">200.00</text>
<text transform="translate(1734.70 333.00) scale(0.9718 1)" font-size="15.36px" fill="#b8bac2" stroke="#b8bac2" stroke-width="0.3" stroke-linejoin="round">220.00</text>
<text transform="translate(1734.70 292.00) scale(0.9718 1)" font-size="15.36px" fill="#b8bac2" stroke="#b8bac2" stroke-width="0.3" stroke-linejoin="round">240.00</text>
<text transform="translate(1734.70 250.00) scale(0.9718 1)" font-size="15.36px" fill="#b8bac2" stroke="#b8bac2" stroke-width="0.3" stroke-linejoin="round">260.00</text>
<text transform="translate(1734.70 209.00) scale(0.9718 1)" font-size="15.36px" fill="#b8bac2" stroke="#b8bac2" stroke-width="0.3" stroke-linejoin="round">280.00</text>
<text transform="translate(1734.86 168.00) scale(0.9686 1)" font-size="15.36px" fill="#b8bac2" stroke="#b8bac2" stroke-width="0.3" stroke-linejoin="round">300.00</text>
<text transform="translate(1734.86 126.00) scale(0.9686 1)" font-size="15.36px" fill="#b8bac2" stroke="#b8bac2" stroke-width="0.3" stroke-linejoin="round">320.00</text>
<text transform="translate(1734.86 85.00) scale(0.9686 1)" font-size="15.36px" fill="#b8bac2" stroke="#b8bac2" stroke-width="0.3" stroke-linejoin="round">340.00</text>
<rect x="1729" y="13.8" width="58.5" height="32.3" rx="5" fill="#0f0f0f" stroke="#333" stroke-width="1"/>
<text transform="translate(1739.26 35.05) scale(0.8259 1)" font-size="15.94px" fill="#d4d6dc" stroke="#d4d6dc" stroke-width="0.3" stroke-linejoin="round">USD</text>
<path d="M1725 608.9 H1784.4 Q1787 608.9 1787 611.5 V645.6 Q1787 648.2 1784.4 648.2 H1725 Z" fill="#f23645"/>
<text transform="translate(1735.81 624.80) scale(0.9729 1)" font-size="15.29px" fill="#fff" stroke="#fff" stroke-width="0.3" stroke-linejoin="round">79.12</text>
<text transform="translate(1735.40 643.10) scale(0.9587 1)" font-size="15.66px" fill="#fcd3d7" stroke="#fcd3d7" stroke-width="0.3" stroke-linejoin="round">2d 15h</text>
<text transform="translate(39.05 865.10) scale(0.9855 1)" font-size="16.00px" fill="#c4c6ce" font-weight="bold" stroke="#c4c6ce" stroke-width="0.2" stroke-linejoin="round">2022</text>
<text transform="translate(189.12 865.10) scale(1.0066 1)" font-size="15.38px" fill="#b8bac2" stroke="#b8bac2" stroke-width="0.3" stroke-linejoin="round">Jul</text>
<text transform="translate(324.05 865.10) scale(0.9832 1)" font-size="16.00px" fill="#c4c6ce" font-weight="bold" stroke="#c4c6ce" stroke-width="0.2" stroke-linejoin="round">2023</text>
<text transform="translate(474.12 865.10) scale(1.0066 1)" font-size="15.38px" fill="#b8bac2" stroke="#b8bac2" stroke-width="0.3" stroke-linejoin="round">Jul</text>
<text transform="translate(608.06 865.10) scale(0.9697 1)" font-size="16.00px" fill="#c4c6ce" font-weight="bold" stroke="#c4c6ce" stroke-width="0.2" stroke-linejoin="round">2024</text>
<text transform="translate(758.12 865.10) scale(1.0066 1)" font-size="15.38px" fill="#b8bac2" stroke="#b8bac2" stroke-width="0.3" stroke-linejoin="round">Jul</text>
<text transform="translate(897.05 865.10) scale(0.9786 1)" font-size="16.00px" fill="#c4c6ce" font-weight="bold" stroke="#c4c6ce" stroke-width="0.2" stroke-linejoin="round">2025</text>
<text transform="translate(1048.12 865.10) scale(1.0066 1)" font-size="15.38px" fill="#b8bac2" stroke="#b8bac2" stroke-width="0.3" stroke-linejoin="round">Jul</text>
<text transform="translate(1182.05 865.10) scale(0.9832 1)" font-size="16.00px" fill="#c4c6ce" font-weight="bold" stroke="#c4c6ce" stroke-width="0.2" stroke-linejoin="round">2026</text>
<text transform="translate(1332.12 865.10) scale(1.0066 1)" font-size="15.38px" fill="#b8bac2" stroke="#b8bac2" stroke-width="0.3" stroke-linejoin="round">Jul</text>
<text transform="translate(1466.05 865.10) scale(0.9855 1)" font-size="16.00px" fill="#c4c6ce" font-weight="bold" stroke="#c4c6ce" stroke-width="0.2" stroke-linejoin="round">2027</text>
<text transform="translate(1616.12 865.10) scale(1.0066 1)" font-size="15.38px" fill="#b8bac2" stroke="#b8bac2" stroke-width="0.3" stroke-linejoin="round">Jul</text>
<circle cx="1226.4" cy="826" r="12.9" fill="#000" stroke="#f23645" stroke-width="2"/>
<g clip-path="url(#flagb)">
<rect x="1215.4" y="815" width="22" height="22" fill="#fff"/>
<rect x="1215.4" y="815.5" width="22" height="4.2" fill="#ef5350"/>
<rect x="1215.4" y="823.8" width="22" height="4.2" fill="#ef5350"/>
<rect x="1215.4" y="831.8" width="22" height="4.7" fill="#ef5350"/>
<rect x="1215.4" y="815" width="13.2" height="13" fill="#1e88e5"/>
</g>
<circle cx="1220.5" cy="826" r="12.9" fill="#000" stroke="#f23645" stroke-width="2"/>
<g clip-path="url(#flagc)">
<rect x="1209.5" y="815" width="22" height="22" fill="#fff"/>
<rect x="1209.5" y="815.5" width="22" height="4.2" fill="#ef5350"/>
<rect x="1209.5" y="823.8" width="22" height="4.2" fill="#ef5350"/>
<rect x="1209.5" y="831.8" width="22" height="4.7" fill="#ef5350"/>
<rect x="1209.5" y="815" width="13.2" height="13" fill="#1e88e5"/>
<circle cx="1213.1" cy="818.4" r="0.7" fill="#fff"/>
<circle cx="1213.1" cy="821.6" r="0.7" fill="#fff"/>
<circle cx="1213.1" cy="824.8" r="0.7" fill="#fff"/>
<circle cx="1216.4" cy="818.4" r="0.7" fill="#fff"/>
<circle cx="1216.4" cy="821.6" r="0.7" fill="#fff"/>
<circle cx="1216.4" cy="824.8" r="0.7" fill="#fff"/>
<circle cx="1219.7" cy="818.4" r="0.7" fill="#fff"/>
<circle cx="1219.7" cy="821.6" r="0.7" fill="#fff"/>
<circle cx="1219.7" cy="824.8" r="0.7" fill="#fff"/>
</g>
<g fill="#d9d9d9">
<path d="M15.2 904.2 H30.7 V923 H22.9 V911.8 H15.2 Z"/>
<circle cx="36.7" cy="908.05" r="3.85"/>
<path d="M44.3 904.2 H52.8 L45.6 923 H36.9 Z"/>
</g>
<text transform="translate(0 922.70) scale(0.9600 1)" x="63.56 77.72 87.09 103.68 118.88 126.20 143.47 158.88 176.54 184.53 200.98" font-size="26.23px" fill="#d9d9d9" stroke="#d9d9d9" stroke-width="0.4" stroke-linejoin="round" font-weight="bold">TradingView</text>
</svg></body></html>
